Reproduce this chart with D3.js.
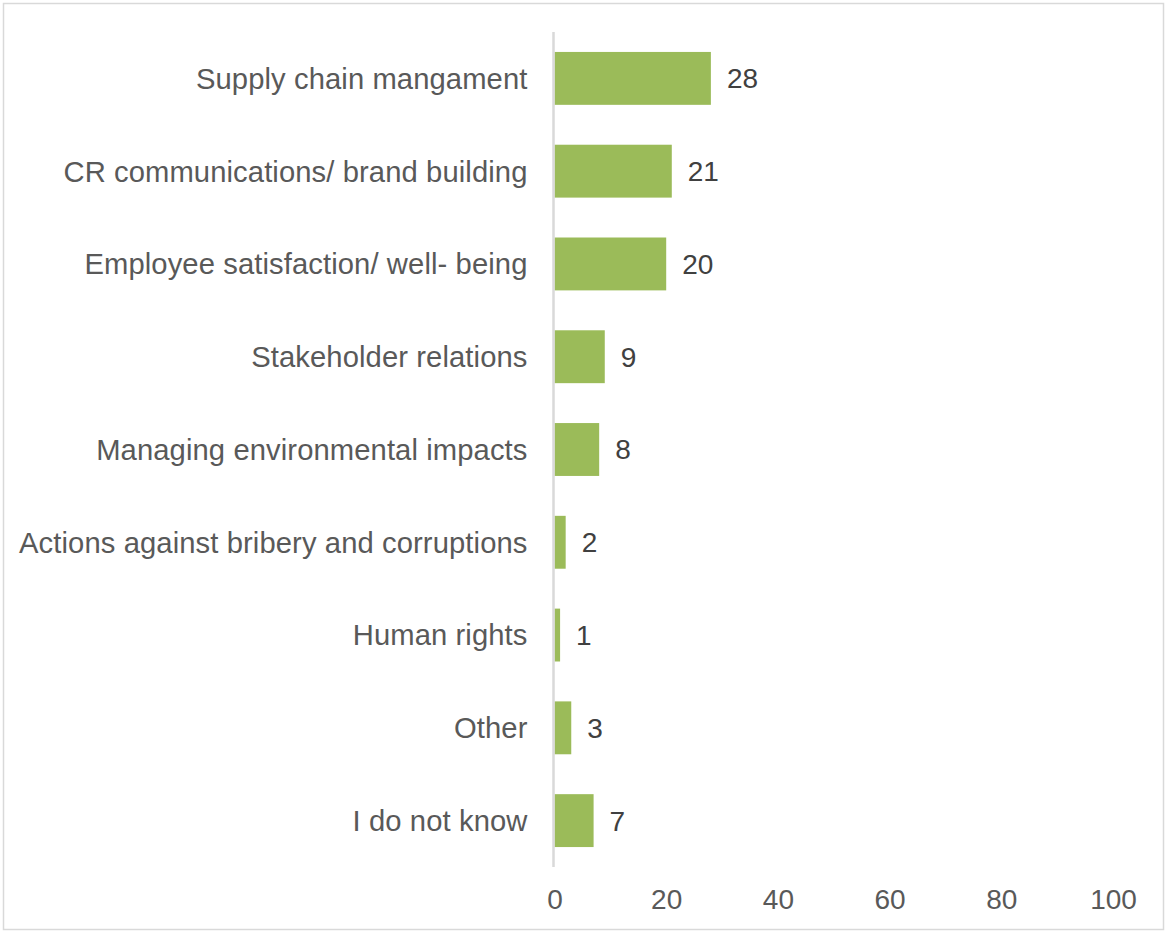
<!DOCTYPE html>
<html>
<head>
<meta charset="utf-8">
<script src="https://cdn.jsdelivr.net/npm/d3@7"></script>
<style>
  html, body { margin: 0; padding: 0; background: #fff; }
  svg { display: block; }
  text { font-family: "Liberation Sans", Arial, sans-serif; }
</style>
</head>
<body>
<svg id="chart" width="1167" height="933"></svg>
<script>
// Survey answers and the share of respondents choosing each
const categories = [
  "Supply chain mangament",
  "CR communications/ brand building",
  "Employee satisfaction/ well- being",
  "Stakeholder relations",
  "Managing environmental impacts",
  "Actions against bribery and corruptions",
  "Human rights",
  "Other",
  "I do not know"
];
const values = [28, 21, 20, 9, 8, 2, 1, 3, 7];
const xTicks = [0, 20, 40, 60, 80, 100];

const svg = d3.select("#chart");
const W = 1167, H = 933;

// outer frame
svg.append("rect")
  .attr("x", 3.5).attr("y", 3.5)
  .attr("width", W - 7).attr("height", H - 7)
  .attr("fill", "#fff")
  .attr("stroke", "#d9d9d9")
  .attr("stroke-width", 1.5);

const x = d3.scaleLinear().domain([0, 100]).range([554.5, 1113]);
const y = d3.scaleBand().domain(categories).range([32, 867])
  .paddingInner(0.43).paddingOuter(0.215);

// bars
svg.append("g").selectAll("rect")
  .data(categories)
  .join("rect")
  .attr("x", x(0))
  .attr("y", d => y(d))
  .attr("width", (d, i) => x(values[i]) - x(0))
  .attr("height", y.bandwidth())
  .attr("fill", "#9bbb59");

// vertical category axis line
svg.append("line")
  .attr("x1", x(0) - 1).attr("x2", x(0) - 1)
  .attr("y1", 32).attr("y2", 867)
  .attr("stroke", "#d9d9d9")
  .attr("stroke-width", 2.5);

// category labels
svg.append("g").selectAll("text")
  .data(categories)
  .join("text")
  .attr("x", x(0) - 27)
  .attr("y", d => y(d) + y.bandwidth() / 2)
  .attr("dy", "0.355em")
  .attr("text-anchor", "end")
  .attr("font-size", 29.2)
  .attr("letter-spacing", 0.1)
  .attr("fill", "#595959")
  .text(d => d);

// value labels
svg.append("g").selectAll("text")
  .data(categories)
  .join("text")
  .attr("x", (d, i) => x(values[i]) + 16)
  .attr("y", d => y(d) + y.bandwidth() / 2)
  .attr("dy", "0.355em")
  .attr("font-size", 28)
  .attr("fill", "#404040")
  .text((d, i) => values[i]);

// value axis (no line, no ticks)
const xAxis = d3.axisBottom(x).tickValues(xTicks).tickSize(0).tickPadding(0);
const gx = svg.append("g").attr("transform", "translate(0,909)").call(xAxis);
gx.select(".domain").remove();
gx.selectAll("text")
  .attr("dy", 0)
  .attr("y", 0)
  .attr("font-size", 28)
  .attr("font-family", "Liberation Sans, Arial, sans-serif")
  .attr("fill", "#595959");
</script>
</body>
</html>
